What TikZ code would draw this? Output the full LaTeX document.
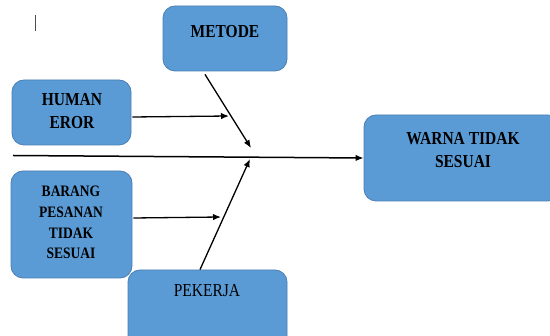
\documentclass[tikz,border=0pt]{standalone}
\usepackage{fontspec}
\usepackage{graphicx}
\setmainfont{Liberation Serif}
\usetikzlibrary{arrows.meta}
\definecolor{boxfill}{HTML}{5B9BD5}
\definecolor{boxline}{HTML}{4A7FB5}
\newcommand\tallline[1]{\scalebox{1}[1.18]{#1}}
\begin{document}
\begin{tikzpicture}[x=1pt,y=-1pt,
  box/.style={draw=boxline,line width=0.8pt,fill=boxfill,rounded corners=12pt,inner sep=0pt},
  lbl/.style={font=\fontsize{15.5}{23}\selectfont\bfseries,align=center,anchor=base,inner sep=0pt,text=black},
  arr/.style={line width=1.3pt,-{Latex[length=8pt,width=6.5pt]}}]
\useasboundingbox (0,0) rectangle (550,336);
\clip (0,0) rectangle (550,336);
\fill[white] (0,0) rectangle (550,336);
% boxes
\node[box,minimum width=124pt,minimum height=65pt] (metode) at (225,38.5) {};
\node[box,minimum width=119pt,minimum height=65pt] (human) at (71.5,112.5) {};
\node[box,minimum width=121pt,minimum height=107pt] (barang) at (71.5,224.5) {};
\node[box,minimum width=159pt,minimum height=80pt] (pekerja) at (207.5,310) {};
\node[box,minimum width=196pt,minimum height=86pt] (warna) at (462,158) {};
% labels (anchor base = baseline of last line)
\node[lbl] (tmetode) at (225,38) {\tallline{METODE}};
\node[lbl] (thuman) at (72,129) {\tallline{HUMAN}\\\tallline{EROR}};
\node[lbl,font=\fontsize{13.5}{20.7}\selectfont\bfseries] (tbarang) at (71,259) {\tallline{BARANG}\\\tallline{PESANAN}\\\tallline{TIDAK}\\\tallline{SESUAI}};
\node[lbl,font=\fontsize{15.5}{23}\selectfont] (tpekerja) at (207,297) {\tallline{PEKERJA}};
\node[lbl] (twarna) at (463,168) {\tallline{WARNA TIDAK}\\\tallline{SESUAI}};
% cursor mark
\coordinate (c1) at (35,15);
\coordinate (c2) at (35,31);
\draw[black!70,line width=0.8pt] (c1) -- (c2);
% spine
\coordinate (spine0) at (13,155.5);
\draw[arr,line width=1.5pt] (spine0) -- (warna.west);
% causes
\coordinate (hEnd) at (229,116);
\coordinate (bEnd) at (221,217);
\coordinate (mEnd) at (251,148);
\coordinate (pEnd) at (250,159);
\draw[arr] (human.east) ++(1,4.5) -- (hEnd);
\draw[arr] (barang.east) ++(1,-6.5) -- (bEnd);
\draw[arr] (metode.south) ++(-20,3) -- (mEnd);
\draw[arr] (pekerja.north) ++(-7.5,0) -- (pEnd);
\end{tikzpicture}
\end{document}
